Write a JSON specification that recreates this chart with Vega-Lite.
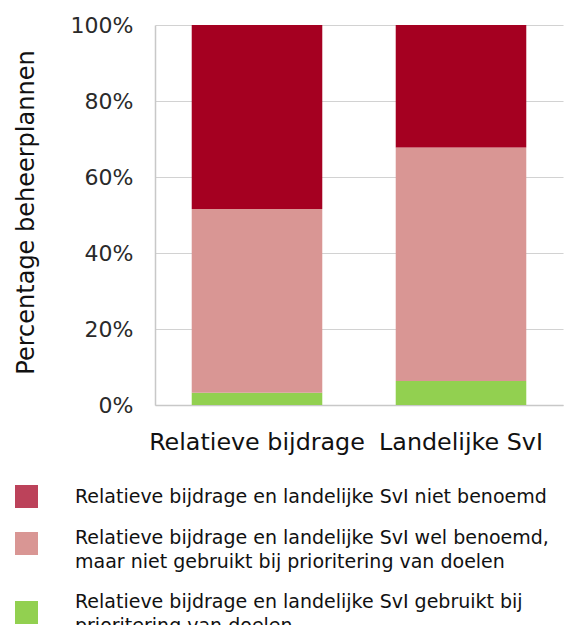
{
  "$schema": "https://vega.github.io/schema/vega-lite/v6.json",
  "width": 408,
  "height": 380,
  "autosize": {"type": "none"},
  "padding": {"left": 155, "top": 25, "right": 10, "bottom": 220},
  "background": "white",
  "config": {
    "font": "DejaVu Sans",
    "view": {"stroke": null}
  },
  "data": {
    "values": [
      {"bar": "Relatieve bijdrage", "cat": "Relatieve bijdrage en landelijke SvI gebruikt bij|prioritering van doelen", "ord": 1, "value": 3.2},
      {"bar": "Relatieve bijdrage", "cat": "Relatieve bijdrage en landelijke SvI wel benoemd,|maar niet gebruikt bij prioritering van doelen", "ord": 2, "value": 48.4},
      {"bar": "Relatieve bijdrage", "cat": "Relatieve bijdrage en landelijke SvI niet benoemd", "ord": 3, "value": 48.4},
      {"bar": "Landelijke SvI", "cat": "Relatieve bijdrage en landelijke SvI gebruikt bij|prioritering van doelen", "ord": 1, "value": 6.3},
      {"bar": "Landelijke SvI", "cat": "Relatieve bijdrage en landelijke SvI wel benoemd,|maar niet gebruikt bij prioritering van doelen", "ord": 2, "value": 61.5},
      {"bar": "Landelijke SvI", "cat": "Relatieve bijdrage en landelijke SvI niet benoemd", "ord": 3, "value": 32.3}
    ]
  },
  "mark": {"type": "bar"},
  "encoding": {
    "x": {
      "field": "bar",
      "type": "nominal",
      "sort": ["Relatieve bijdrage", "Landelijke SvI"],
      "scale": {"paddingInner": 0.36, "paddingOuter": 0.18},
      "axis": {
        "title": null,
        "labelAngle": 0,
        "ticks": false,
        "tickSize": 0,
        "labelPadding": 25,
        "labelFontSize": 23.8,
        "labelLimit": 400,
        "labelColor": "#111111",
        "domainColor": "#c8c8c8",
        "domainWidth": 1.5,
        "grid": false
      }
    },
    "y": {
      "field": "value",
      "type": "quantitative",
      "stack": "normalize",
      "scale": {"domain": [0, 1], "nice": false},
      "axis": {
        "title": "Percentage beheerplannen",
        "titleFontSize": 24,
        "titleFontWeight": "normal",
        "titleColor": "#111111",
        "titlePadding": 32,
        "titleY": 187,
        "format": ".0%",
        "values": [0, 0.2, 0.4, 0.6, 0.8, 1],
        "ticks": false,
        "tickSize": 0,
        "labelPadding": 22,
        "labelFontSize": 22,
        "labelColor": "#2a2a2a",
        "domainColor": "#c8c8c8",
        "domainWidth": 1.5,
        "grid": true,
        "gridColor": "#d2d2d2",
        "gridWidth": 1.2
      }
    },
    "color": {
      "field": "cat",
      "type": "nominal",
      "scale": {
        "domain": [
          "Relatieve bijdrage en landelijke SvI niet benoemd",
          "Relatieve bijdrage en landelijke SvI wel benoemd,|maar niet gebruikt bij prioritering van doelen",
          "Relatieve bijdrage en landelijke SvI gebruikt bij|prioritering van doelen"
        ],
        "range": ["#a50021", "#d99694", "#92d050"]
      },
      "legend": {
        "title": null,
        "orient": "none",
        "legendX": -140,
        "legendY": 460,
        "symbolType": "square",
        "symbolSize": 529,
        "symbolStrokeWidth": 0,
        "labelFontSize": 19,
        "labelColor": "#111111",
        "labelLimit": 600,
        "labelOffset": 37,
        "labelExpr": "split(datum.value, '|')",
        "rowPadding": 20,
        "encode": {
          "symbols": {
            "update": {
              "fillOpacity": {"signal": "indexof(datum.value, 'niet benoemd') >= 0 ? 0.74 : 1"},
              "opacity": {"value": 1}
            }
          },
          "labels": {
            "enter": {
              "dy": {"signal": "indexof(datum.value, '|prior') >= 0 ? -11 : (indexof(datum.value, '|') >= 0 ? -6 : 0)"}
            },
            "update": {
              "lineHeight": {"value": 24},
              "dy": {"signal": "indexof(datum.value, '|prior') >= 0 ? -11 : (indexof(datum.value, '|') >= 0 ? -6 : 0)"}
            }
          }
        }
      }
    },
    "order": {"field": "ord", "type": "quantitative"}
  }
}
